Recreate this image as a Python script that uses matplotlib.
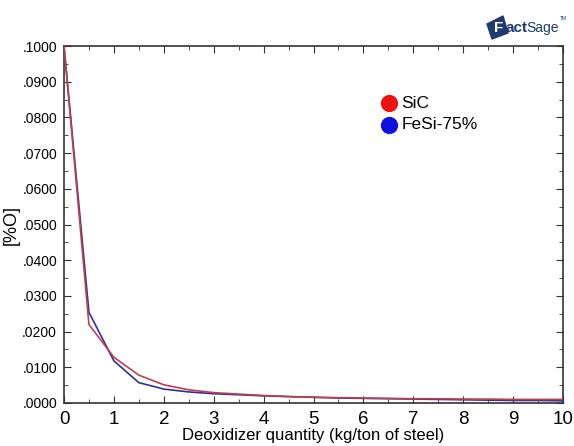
import matplotlib
matplotlib.use("Agg")
import matplotlib.pyplot as plt
from matplotlib.ticker import MultipleLocator, FuncFormatter
from matplotlib.patches import Polygon

plt.rcParams['font.family'] = ['Liberation Sans', 'DejaVu Sans']

x = [0, 0.5, 1, 1.5, 2, 2.5, 3, 3.5, 4, 4.5, 5, 5.5, 6, 6.5, 7, 7.5, 8, 8.5, 9, 9.5, 10]
sic = [0.1000, 0.0220, 0.0128, 0.0078, 0.0051, 0.0037, 0.0029, 0.0025, 0.0021, 0.0018, 0.0016,
       0.0015, 0.0014, 0.0013, 0.0012, 0.0012, 0.0011, 0.0011, 0.0010, 0.0010, 0.0010]
fesi = [0.1000, 0.0254, 0.0118, 0.0057, 0.0039, 0.0031, 0.0026, 0.0023, 0.0020, 0.0018, 0.0016,
        0.0014, 0.0013, 0.0012, 0.0011, 0.0010, 0.0009, 0.0008, 0.0007, 0.0007, 0.0006]
labels = ["SiC", "FeSi-75%"]

fig = plt.figure(figsize=(5.74, 4.46), dpi=100)
ax = fig.add_axes([64/574, 43/446, 499/574, 357/446])
ax.plot(x, sic, color='#c0404a', lw=1.2, zorder=3)
ax.plot(x, fesi, color='#30309a', lw=1.2, zorder=2)
ax.set_xlim(0, 10)
ax.set_ylim(0, 0.1)
ax.xaxis.set_major_locator(MultipleLocator(1))
ax.xaxis.set_minor_locator(MultipleLocator(0.5))
ax.yaxis.set_major_locator(MultipleLocator(0.01))
ax.yaxis.set_minor_locator(MultipleLocator(0.005))
ax.yaxis.set_major_formatter(FuncFormatter(lambda v, p: ("%.4f" % v)[1:]))
ax.tick_params(which='both', direction='in', top=True, right=True, colors='#333333')
ax.tick_params(which='major', length=5)
ax.tick_params(which='minor', length=3)
ax.tick_params(axis='x', labelsize=13.5, pad=6, labelcolor='black')
ax.tick_params(axis='y', labelsize=10, pad=5, labelcolor='black')
for s in ax.spines.values():
    s.set_color('#333333')
    s.set_linewidth(1.2)
ax.set_xlabel("Deoxidizer quantity (kg/ton of steel)", fontsize=12, labelpad=0)
ax.set_ylabel("[%O]", fontsize=13, labelpad=2)

h1 = ax.scatter([], [], s=130, color='#ee1111')
h2 = ax.scatter([], [], s=130, color='#1111dd')
ax.legend([h1, h2], labels, loc='upper left', bbox_to_anchor=(0.6, 0.885), frameon=False,
          fontsize=12.5, handletextpad=-0.3, labelspacing=0.35, borderpad=0)

logo = '#1f3a6e'
fig.patches.append(Polygon([(487/574, 1-24/446), (503/574, 1-16/446), (508/574, 1-33/446), (492/574, 1-39/446)],
                           closed=True, transform=fig.transFigure, color=logo, figure=fig))
fig.text(494/574, 1-28/446, "F", ha='left', va='center', fontsize=11, fontweight='bold', color='white')
fig.text(505/574, 1-28/446, "act", ha='left', va='center', fontsize=11, fontweight='bold', color=logo)
fig.text(526/574, 1-28/446, "Sage", ha='left', va='center', fontsize=10, color=logo)
fig.text(560/574, 1-19/446, "TM", ha='left', va='center', fontsize=3.5, color=logo)
fig.savefig("out.png", dpi=100)
